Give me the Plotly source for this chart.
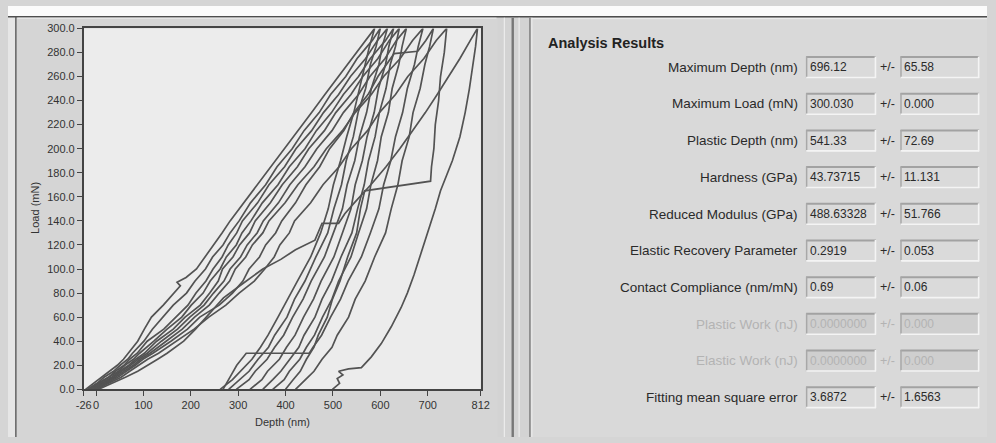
import plotly.graph_objects as go

W, H = 996, 443

# ---------------- data ----------------
X_TICK_VALS = [-26, 0, 100, 200, 300, 400, 500, 600, 700, 812]
X_TICK_TEXT = ["-26", "0", "100", "200", "300", "400", "500", "600", "700", "812"]
Y_TICK_VALS = [0, 20, 40, 60, 80, 100, 120, 140, 160, 180, 200, 220, 240, 260, 280, 300]

LOAD_UP = [0, 5, 10, 15, 20, 25, 30, 40, 50, 60, 70, 80, 90, 100, 110, 120, 130, 140,
           155, 170, 185, 200, 215, 230, 245, 260, 275, 290, 300]
LOAD_DN = [300, 285, 270, 250, 230, 210, 190, 170, 150, 130, 110, 90, 75, 60, 45, 35, 25, 15, 8, 0]

IND1_UP_LOAD = [0, 5, 10, 15, 20, 25, 30, 40, 50, 60, 70, 80, 86, 89, 93, 100, 110, 120, 130, 140,
                155, 170, 185, 200, 215, 230, 245, 260, 275, 290, 300]
IND1_UP_DEPTH = [-22, -5, 12, 30, 45, 58, 68, 88, 102, 117, 142, 165, 178, 171, 190, 212, 230, 249, 266, 283,
                 312, 340, 369, 397, 426, 455, 483, 512, 540, 569, 588]
IND1_DN_DEPTH = [588, 577, 568, 555, 544, 529, 516, 501, 490, 474, 453, 425, 405, 384, 363, 347, 329, 304, 288, 262]

IND2_UP_DEPTH = [-18, 2, 17, 37, 51, 67, 77, 101, 119, 141, 163, 191, 209, 231, 246, 268, 283, 302,
                 326, 358, 382, 414, 439, 471, 495, 527, 551, 583, 600]
IND2_DN_DEPTH = [600, 591, 579, 569, 553, 543, 528, 518, 502, 489, 464, 441, 419, 403, 377, 364, 342, 323, 304, 280]

IND3_UP_DEPTH = [-15, 4, 26, 41, 59, 71, 87, 108, 143, 169, 194, 211, 232, 247, 266, 279, 297, 309,
                 341, 365, 398, 422, 455, 480, 512, 537, 569, 594, 615]
IND3_DN_DEPTH = [615, 604, 597, 581, 571, 556, 546, 530, 520, 501, 482, 454, 437, 415, 396, 377, 361, 336, 323, 296]

IND4_UP_DEPTH = [-12, 9, 27, 47, 61, 79, 92, 122, 150, 181, 201, 226, 241, 262, 275, 296, 308, 327,
                 351, 384, 408, 441, 465, 497, 522, 554, 579, 611, 628]
IND4_DN_DEPTH = [628, 618, 611, 596, 587, 572, 562, 547, 538, 520, 502, 475, 459, 438, 420, 402, 387, 362, 350, 325]

IND5_UP_DEPTH = [-10, 11, 33, 50, 69, 84, 102, 128, 163, 188, 220, 240, 258, 267, 289, 303, 324, 336,
                 368, 393, 425, 449, 482, 506, 538, 563, 595, 619, 640]
IND5_DN_DEPTH = [640, 632, 621, 612, 598, 589, 575, 566, 552, 540, 517, 497, 477, 462, 439, 428, 408, 390, 373, 352]

IND6_UP_DEPTH = [-8, 14, 37, 54, 73, 89, 108, 138, 172, 198, 228, 248, 270, 283, 305, 319, 340, 353,
                 385, 409, 441, 466, 498, 522, 554, 578, 610, 634, 655]
IND6_DN_DEPTH = [655, 646, 639, 625, 617, 602, 594, 580, 571, 554, 538, 512, 498, 478, 461, 444, 430, 408, 397, 373]

IND7_UP_DEPTH = [-5, 17, 41, 59, 79, 94, 114, 148, 182, 208, 239, 260, 282, 294, 316, 330, 352, 365,
                 399, 426, 460, 486, 520, 547, 581, 607, 642, 668, 690]
IND7_DN_LOAD = [300, 285, 270, 250, 230, 210, 190, 170, 150, 130, 110, 90, 75, 60, 45, 35, 30, 30, 20, 11, 5, 0]
IND7_DN_DEPTH = [690, 680, 672, 657, 647, 632, 622, 607, 597, 579, 560, 532, 516, 495, 476, 458, 450, 317, 297, 284, 275, 268]

IND8_UP_LOAD = [0, 5, 10, 15, 20, 25, 30, 40, 50, 60, 70, 80, 90, 100, 110, 120, 130, 140,
                155, 170, 185, 200, 215, 230, 245, 260, 279, 281, 290, 300]
IND8_UP_DEPTH = [-2, 21, 46, 64, 83, 99, 120, 158, 193, 219, 260, 288, 310, 323, 345, 358, 379, 392,
                 421, 443, 472, 493, 523, 544, 574, 595, 629, 679, 696, 712]
IND8_DN_DEPTH = [712, 704, 694, 684, 669, 661, 646, 637, 623, 611, 588, 568, 547, 533, 509, 498, 477, 460, 442, 421]

IND9_UP_DEPTH = [0, 25, 53, 71, 91, 109, 132, 169, 207, 238, 274, 302, 334, 356, 376, 388, 408, 419,
                 453, 479, 513, 539, 573, 598, 632, 658, 692, 718, 740]
IND9_DN_LOAD = [300, 280, 260, 240, 220, 200, 185, 173, 165, 150, 130, 110, 90, 75, 60, 45, 35, 25, 15, 8, 0]
IND9_DN_DEPTH = [740, 735, 727, 723, 716, 713, 708, 706, 567, 558, 550, 531, 515, 499, 488, 469, 460, 444, 431, 416, 400]

IND10_UP_LOAD = [0, 5, 10, 15, 20, 25, 30, 40, 50, 60, 68, 76, 88, 100, 108, 116, 124, 132, 138, 138,
                 146, 155, 170, 185, 200, 215, 230, 245, 260, 275, 290, 300]
IND10_UP_DEPTH = [5, 35, 62, 88, 110, 130, 150, 185, 210, 232, 250, 269, 310, 352, 390, 421, 462, 470, 477, 512,
                  525, 545, 580, 612, 641, 668, 695, 720, 744, 768, 790, 805]
IND10_DN_LOAD = [300, 285, 270, 250, 230, 210, 190, 165, 150, 130, 110, 95, 80, 68, 52, 38, 27, 18, 17, 15, 12, 9, 5, 0]
IND10_DN_DEPTH = [805, 801, 796, 788, 779, 768, 752, 727, 716, 700, 684, 671, 657, 644, 623, 602, 581, 560, 533, 512,
                  521, 509, 514, 499]

RESULT_LABELS = ["Maximum Depth (nm)", "Maximum Load (mN)", "Plastic Depth (nm)", "Hardness (GPa)",
                 "Reduced Modulus (GPa)", "Elastic Recovery Parameter", "Contact Compliance (nm/mN)",
                 "Plastic Work (nJ)", "Elastic Work (nJ)", "Fitting mean square error"]
RESULT_VALUES = ["696.12", "300.030", "541.33", "43.73715", "488.63328", "0.2919", "0.69",
                 "0.0000000", "0.0000000", "3.6872"]
RESULT_ERRORS = ["65.58", "0.000", "72.69", "11.131", "51.766", "0.053", "0.06", "0.000", "0.000", "1.6563"]
RESULT_ENABLED = [True, True, True, True, True, True, True, False, False, True]

# ---------------- figure ----------------
def px(x):
    return x / W


def py(y):
    return 1 - y / H


curves = [
    (IND1_UP_LOAD, IND1_UP_DEPTH, LOAD_DN, IND1_DN_DEPTH),
    (LOAD_UP, IND2_UP_DEPTH, LOAD_DN, IND2_DN_DEPTH),
    (LOAD_UP, IND3_UP_DEPTH, LOAD_DN, IND3_DN_DEPTH),
    (LOAD_UP, IND4_UP_DEPTH, LOAD_DN, IND4_DN_DEPTH),
    (LOAD_UP, IND5_UP_DEPTH, LOAD_DN, IND5_DN_DEPTH),
    (LOAD_UP, IND6_UP_DEPTH, LOAD_DN, IND6_DN_DEPTH),
    (LOAD_UP, IND7_UP_DEPTH, IND7_DN_LOAD, IND7_DN_DEPTH),
    (IND8_UP_LOAD, IND8_UP_DEPTH, LOAD_DN, IND8_DN_DEPTH),
    (LOAD_UP, IND9_UP_DEPTH, IND9_DN_LOAD, IND9_DN_DEPTH),
    (IND10_UP_LOAD, IND10_UP_DEPTH, IND10_DN_LOAD, IND10_DN_DEPTH),
]

fig = go.Figure()
for ul, ud, dl, dd in curves:
    fig.add_trace(go.Scatter(
        x=list(ud) + list(dd), y=list(ul) + list(dl), mode="lines",
        line=dict(color="#535353", width=1.7), hoverinfo="skip", showlegend=False,
    ))

FONT = "Liberation Sans, Arial, sans-serif"
AXC = "#444444"

shapes = []


def rect(x0, y0, x1, y1, fill, layer="below"):
    shapes.append(dict(type="rect", xref="paper", yref="paper", x0=px(x0), x1=px(x1),
                       y0=py(y1), y1=py(y0), fillcolor=fill, line=dict(width=0), layer=layer))


def line(x0, y0, x1, y1, color, width=1.0, layer="below"):
    shapes.append(dict(type="line", xref="paper", yref="paper", x0=px(x0), x1=px(x1),
                       y0=py(y0), y1=py(y1), line=dict(color=color, width=width), layer=layer))


# window chrome
rect(0, 0, W, 11, "#fbfbfb")
rect(0, 11, 8, H, "#e6e6e6")
rect(531, 11, W, H, "#d9d9d9")
rect(498, 11, 531, H, "#d3d3d3")
line(0, 11, W, 11, "#4e4e4e", 1.6)
line(8, 11, 8, H, "#5a5a5a", 1.4)
line(9.5, 12.5, 497, 12.5, "#ebebeb", 1)
line(505, 12, 505, H, "#ececec", 1.2)
line(513.5, 12, 513.5, H, "#777777", 2.4)
line(520, 12, 520, H, "#ececec", 1.2)
line(531, 12, 531, H, "#7a7a7a", 1.4)
line(533, 12, 533, H, "#eeeeee", 1)
line(533, 13, W, 13, "#efefef", 1)

annotations = []


def text(t, x, y, size, color, xanchor="center", angle=0):
    annotations.append(dict(text=t, x=px(x), y=py(y), xref="paper", yref="paper",
                            xanchor=xanchor, yanchor="middle", showarrow=False, textangle=angle,
                            font=dict(family=FONT, size=size, color=color)))


# axis titles
text("Load (mN)", 28, 208, 11, "#333333", angle=-90)
text("Depth (nm)", 279, 428, 11, "#333333")

# Analysis results panel
text("<b>Analysis Results</b>", 547, 38, 14.5, "#222222", xanchor="left")

for i, (lab, val, err, en) in enumerate(zip(RESULT_LABELS, RESULT_VALUES, RESULT_ERRORS, RESULT_ENABLED)):
    yc = 63 + i * 37.7
    tcol = "#2a2a2a" if en else "#b3b3b3"
    bfill = "#dadada" if en else "#cfcfcf"
    for bx0, bx1 in ((812, 883), (908, 988)):
        rect(bx0, yc - 11, bx1, yc + 11, bfill)
        line(bx0, yc - 10.5, bx1, yc - 10.5, "#a2a2a2", 2)
        line(bx0 + 0.5, yc - 11, bx0 + 0.5, yc + 11, "#a8a8a8", 1.5)
        line(bx0, yc + 10.5, bx1, yc + 10.5, "#f4f4f4", 1.6)
        line(bx1 - 0.5, yc - 11, bx1 - 0.5, yc + 11, "#f4f4f4", 1.6)
    text(lab, 806, yc, 13.5, tcol, xanchor="right")
    text(val, 814, yc, 12, tcol, xanchor="left")
    text("+/-", 895, yc, 12.5, tcol)
    text(err, 910, yc, 12, tcol, xanchor="left")

fig.update_layout(
    margin=dict(l=0, r=0, t=0, b=0, pad=0), autosize=True,
    paper_bgcolor="#d5d5d5", plot_bgcolor="#ececec",
    shapes=shapes, annotations=annotations, showlegend=False,
    xaxis=dict(domain=[px(77), px(481)], range=[-26, 812], tickvals=X_TICK_VALS, ticktext=X_TICK_TEXT,
               tickangle=0, ticks="outside", ticklen=5, tickcolor=AXC, tickwidth=1.2, showline=True,
               linecolor=AXC, linewidth=1.5, mirror=True, showgrid=False, zeroline=False,
               tickfont=dict(family=FONT, size=11, color="#333333")),
    yaxis=dict(domain=[py(394), py(23)], range=[0, 300], tickvals=Y_TICK_VALS, tickformat=".1f",
               ticks="outside", ticklen=5, tickcolor=AXC, tickwidth=1.2, showline=True, linecolor=AXC,
               linewidth=1.5, mirror=True, showgrid=False, zeroline=False,
               tickfont=dict(family=FONT, size=11, color="#333333")),
)

# The graph div is pinned to the window's top-left corner so that page margins do not shift it.
fig.write_html(
    "out.html",
    config={"displayModeBar": False},
    default_width="996px; position:fixed; left:0; top:0",
    default_height="443px",
)
